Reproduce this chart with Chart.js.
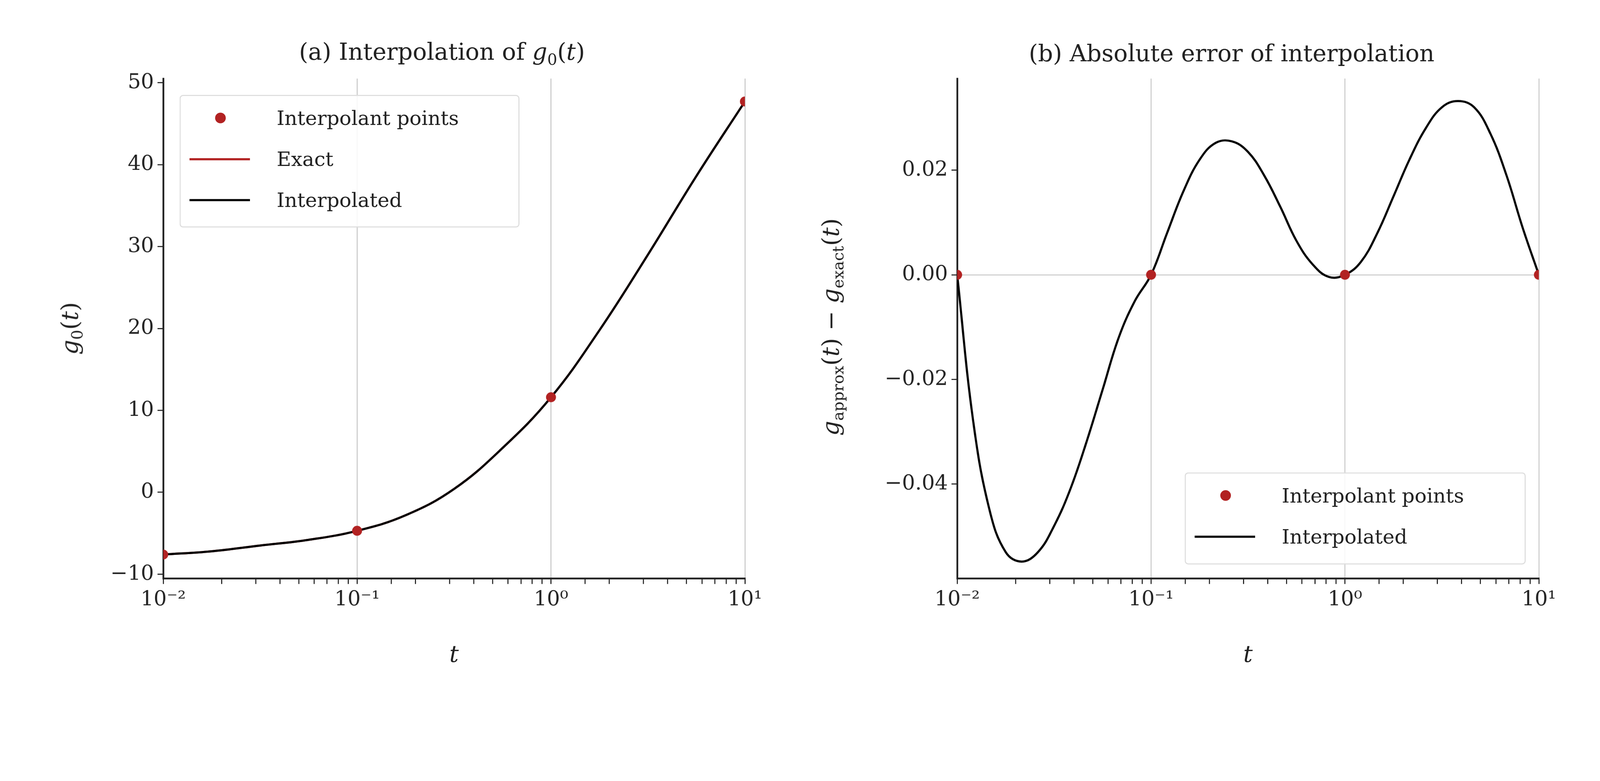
<!DOCTYPE html>
<html><head><meta charset="utf-8">
<script src="https://cdn.jsdelivr.net/npm/chart.js@4"></script>
<style>
html,body{margin:0;background:#fff;overflow:hidden}
#root{width:4500px;height:2000px;position:absolute;left:0;top:0;transform-origin:0 0;font-family:"DejaVu Serif","Liberation Serif",serif;color:#222}
canvas{position:absolute;top:0}
.t{position:absolute;white-space:nowrap;font-size:66px;transform:translate(-50%,-50%)}
.leg{position:absolute;border:3px solid #ddd;border-radius:10px;background:rgba(255,255,255,0.85);font-size:56px}
.row{position:absolute;left:0;display:flex;align-items:center}
.sym{width:170px;position:relative;height:20px}
</style></head><body>
<div id="root">
<canvas id="ca" style="left:0"></canvas>
<canvas id="cb" style="left:2250px"></canvas>
<div class="t" style="left:1243px;top:150px">(a) Interpolation of <i>g</i><sub style="font-size:44px">0</sub>(<i>t</i>)</div>
<div class="t" style="left:3464px;top:150px">(b) Absolute error of interpolation</div>
<div class="t" style="left:1277px;top:1840px"><i>t</i></div>
<div class="t" style="left:3510px;top:1840px"><i>t</i></div>
<div class="t" style="left:200px;top:924px;transform:translate(-50%,-50%) rotate(-90deg)"><i>g</i><sub style="font-size:44px">0</sub>(<i>t</i>)</div>
<div class="t" style="left:2340px;top:920px;transform:translate(-50%,-50%) rotate(-90deg)"><i>g</i><sub style="font-size:44px">approx</sub>(<i>t</i>) − <i>g</i><sub style="font-size:44px">exact</sub>(<i>t</i>)</div>
<div class="leg" style="left:505px;top:267px;width:950px;height:367px">
 <div class="row" style="top:30px"><div class="sym"><div style="position:absolute;left:97px;top:-6px;width:30px;height:30px;border-radius:50%;background:#b22222"></div></div><span style="margin-left:100px">Interpolant points</span></div>
 <div class="row" style="top:145px"><div class="sym" style="margin-left:25px"><div style="position:absolute;top:7px;width:170px;height:6px;background:#b22222"></div></div><span style="margin-left:75px">Exact</span></div>
 <div class="row" style="top:260px"><div class="sym" style="margin-left:25px"><div style="position:absolute;top:7px;width:170px;height:6px;background:#000"></div></div><span style="margin-left:75px">Interpolated</span></div>
</div>
<div class="leg" style="left:3332px;top:1329px;width:953px;height:253px">
 <div class="row" style="top:30px"><div class="sym"><div style="position:absolute;left:97px;top:-6px;width:30px;height:30px;border-radius:50%;background:#b22222"></div></div><span style="margin-left:100px">Interpolant points</span></div>
 <div class="row" style="top:145px"><div class="sym" style="margin-left:25px"><div style="position:absolute;top:7px;width:170px;height:6px;background:#000"></div></div><span style="margin-left:75px">Interpolated</span></div>
</div>
</div>
<script>
const nodeT = [0.01, 0.1, 1, 10];
const nodeG = [-7.6, -4.7, 11.6, 47.7];
const nodeErr = [0, 0, 0, 0];
const curveT = [0.01,0.0178,0.0316,0.0562,0.1,0.178,0.316,0.562,1,1.78,3.16,5.62,10];
const curveG = [-7.6,-7.2,-6.5,-5.8,-4.7,-2.8,0.4,5.4,11.6,19.8,29.0,38.6,47.7];
const errT = [0.01,0.0121,0.0147,0.0178,0.0215,0.0261,0.0316,0.0383,0.0464,0.0562,0.0681,0.0825,0.1,
  0.121,0.147,0.178,0.215,0.261,0.316,0.383,0.464,0.562,0.681,0.825,1,
  1.21,1.47,1.78,2.15,2.61,3.16,3.83,4.64,5.62,6.81,8.25,10];
const errV = [0,-0.028,-0.045,-0.053,-0.0548,-0.053,-0.048,-0.041,-0.032,-0.022,-0.012,-0.005,0,
  0.008,0.016,0.022,0.0252,0.0255,0.0235,0.019,0.013,0.0065,0.002,-0.0004,0,
  0.0025,0.008,0.015,0.022,0.028,0.032,0.0332,0.032,0.027,0.019,0.009,0];
const ticksA = [-10,0,10,20,30,40,50];
const ticksB = [-0.04,-0.02,0,0.02];
const decadeLabels = {'-2':'10⁻²','-1':'10⁻¹','0':'10⁰','1':'10¹'};
const MINUS = String.fromCharCode(0x2212);
const root=document.getElementById('root');
root.style.transform='scale('+(window.innerWidth/4500)+')';
const RED='#b22222';
const F={family:'DejaVu Serif',size:58};
function isMajor(v){const l=Math.log10(v);return Math.abs(l-Math.round(l))<1e-6;}
function xAxis(){return {type:'logarithmic',min:0.01,max:10,
  afterFit:s=>{s.height=100;},
  border:{color:'#222',width:5},
  grid:{color:c=>(c.tick&&isMajor(c.tick.value))?'#cccccc':'rgba(0,0,0,0)',lineWidth:3,tickColor:'#222',tickLength:16,tickWidth:3},
  ticks:{autoSkip:false,maxRotation:0,color:'#222',font:F,padding:10,
    callback:(v)=>isMajor(v)?decadeLabels[String(Math.round(Math.log10(v)))]:''}}}
function mk(id,w,pad,datasets,y){
  const c=document.getElementById(id);c.width=w;c.height=2000;c.style.width=w+'px';c.style.height='2000px';
  new Chart(c,{type:'scatter',data:{datasets},options:{responsive:false,animation:false,
    devicePixelRatio:1,layout:{padding:pad},
    plugins:{legend:{display:false},tooltip:{enabled:false}},
    scales:{x:xAxis(),y}}});
}
const lineCommon={showLine:true,borderWidth:6,pointRadius:0,tension:0.4};
mk('ca',2200,{left:209,right:105,top:221,bottom:273},[
  Object.assign({data:curveT.map((t,i)=>({x:t,y:curveG[i]})),borderColor:RED,order:3},lineCommon),
  Object.assign({data:curveT.map((t,i)=>({x:t,y:curveG[i]})),borderColor:'#000',order:2},lineCommon),
  {data:nodeT.map((t,i)=>({x:t,y:nodeG[i]})),showLine:false,pointRadius:14,backgroundColor:RED,borderWidth:0,order:1}
],{min:-10.5,max:50.5,afterFit:s=>{s.width=250;},afterBuildTicks:s=>{s.ticks=ticksA.map(v=>({value:v}));},
  border:{color:'#222',width:5},
  grid:{drawOnChartArea:false,color:'#222',tickLength:16,lineWidth:3},
  ticks:{color:'#222',font:F,padding:10,callback:v=>(v<0?MINUS:'')+Math.abs(v)}});
mk('cb',2250,{left:192,right:172,top:221,bottom:273},[
  Object.assign({data:errT.map((t,i)=>({x:t,y:errV[i]})),borderColor:'#000',order:2},lineCommon),
  {data:nodeT.map((t,i)=>({x:t,y:nodeErr[i]})),showLine:false,pointRadius:14,backgroundColor:RED,borderWidth:0,order:1}
],{min:-0.058,max:0.0375,afterFit:s=>{s.width=250;},afterBuildTicks:s=>{s.ticks=ticksB.map(v=>({value:v}));},
  border:{color:'#222',width:5},
  grid:{color:c=>(c.tick&&Math.abs(c.tick.value)<1e-9)?'#cccccc':'rgba(0,0,0,0)',lineWidth:3,tickColor:'#222',tickLength:16,tickWidth:3},
  ticks:{color:'#222',font:F,padding:10,callback:v=>(v<-1e-9?MINUS:'')+Math.abs(v).toFixed(2)}});
</script></body></html>
